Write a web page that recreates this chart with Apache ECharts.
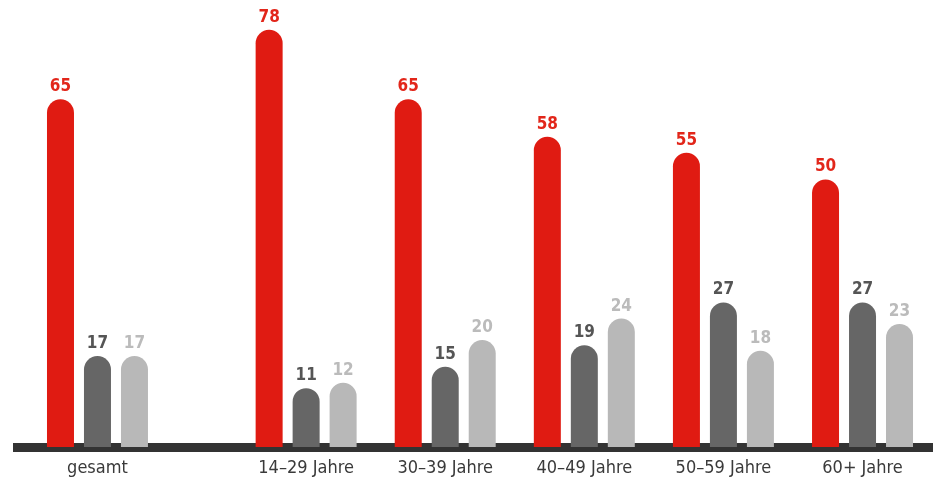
<!DOCTYPE html>
<html><head><meta charset="utf-8">
<script src="https://cdn.jsdelivr.net/npm/echarts@6/dist/echarts.min.js"></script>
<style>html,body{margin:0;padding:0;background:#fff}#c{width:933px;height:478px}</style>
</head><body><div id="c"></div>
<script>
const categories = ['gesamt', '14–29 Jahre', '30–39 Jahre', '40–49 Jahre', '50–59 Jahre', '60+ Jahre'];
const seriesRed = [65, 78, 65, 58, 55, 50];
const seriesDark = [17, 11, 15, 19, 27, 27];
const seriesLight = [17, 12, 20, 24, 18, 23];
// slot index of each category on the axis (gap after "gesamt")
const slots = [0, 3, 5, 7, 9, 11];
const nSlots = 12;

const axisCats = new Array(nSlots).fill('');
const mk = arr => { const d = new Array(nSlots).fill('-'); slots.forEach((s, i) => { d[s] = arr[i]; }); return d; };
slots.forEach((s, i) => { axisCats[s] = categories[i]; });

const FONT = 'DejaVu Sans Condensed';
function bar(name, data, color, labelColor) {
  return {
    name, type: 'bar', data: mk(data), barWidth: 27, barGap: '37%', clip: false,
    xAxisIndex: 0, yAxisIndex: 0,
    itemStyle: { color, borderRadius: [13.5, 13.5, 0, 0] },
    label: { show: true, position: 'top', distance: 4, color: labelColor, fontFamily: FONT, fontWeight: 'bold', fontSize: 17 },
    silent: true
  };
}
const chart = echarts.init(document.getElementById('c'), null, { renderer: 'canvas' });
chart.setOption({
  animation: false,
  grid: [
    { left: 62.7, right: 35.7, top: 19, bottom: 31 },
    { left: 13, right: 0, top: 19, bottom: 31 }
  ],
  xAxis: [
    { type: 'category', gridIndex: 0, data: axisCats, axisLine: { show: false }, axisTick: { show: false },
      axisLabel: { interval: 0, color: '#3a3a3a', fontFamily: FONT, fontSize: 18, margin: 12 } },
    { type: 'value', gridIndex: 1, min: 0, max: 1, splitLine: { show: false }, axisTick: { show: false }, axisLabel: { show: false },
      axisLine: { show: true, lineStyle: { color: '#333333', width: 9, cap: 'butt' } } }
  ],
  yAxis: [
    { type: 'value', gridIndex: 0, min: 0, max: 80, show: false },
    { type: 'value', gridIndex: 1, min: 0, max: 1, show: false }
  ],
  series: [
    bar('red', seriesRed, '#e01b12', '#e2261a'),
    bar('dark', seriesDark, '#666666', '#555555'),
    bar('light', seriesLight, '#b8b8b8', '#bbbbbb')
  ]
});
</script></body></html>
